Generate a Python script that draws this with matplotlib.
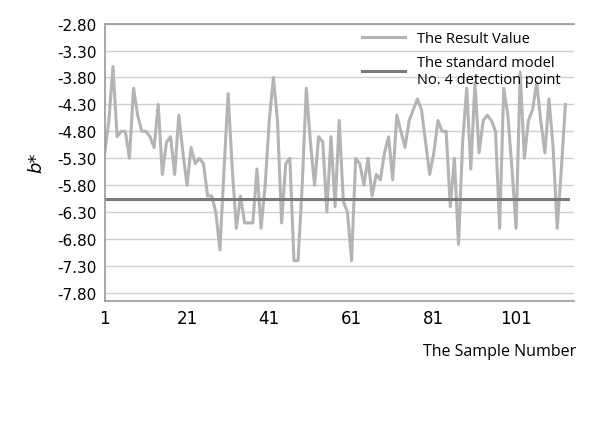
import matplotlib
matplotlib.use("Agg")
import matplotlib.pyplot as plt
import numpy as np

values = [-5.2,-4.6,-3.6,-4.9,-4.8,-4.8,-5.3,-4.0,-4.5,-4.8,-4.8,-4.9,-5.1,-4.3,-5.6,-5.0,-4.9,-5.6,-4.5,-5.2,
          -5.8,-5.1,-5.4,-5.3,-5.4,-6.0,-6.0,-6.3,-7.0,-5.5,-4.1,-5.5,-6.6,-6.0,-6.5,-6.5,-6.5,-5.5,-6.6,-5.8,
          -4.6,-3.8,-4.6,-6.5,-5.4,-5.3,-7.2,-7.2,-5.8,-4.0,-5.0,-5.8,-4.9,-5.0,-6.3,-4.9,-6.2,-4.6,-6.1,-6.3,
          -7.2,-5.3,-5.4,-5.8,-5.3,-6.0,-5.6,-5.7,-5.2,-4.9,-5.7,-4.5,-4.8,-5.1,-4.6,-4.4,-4.2,-4.4,-5.0,-5.6,
          -5.2,-4.6,-4.8,-4.8,-6.2,-5.3,-6.9,-5.0,-4.0,-5.5,-3.9,-5.2,-4.6,-4.5,-4.6,-4.8,-6.6,-4.0,-4.5,-5.5,
          -6.6,-3.7,-5.3,-4.6,-4.4,-3.9,-4.6,-5.2,-4.2,-5.1,-6.6,-5.5,-4.3]
samples = np.arange(1, len(values) + 1)
standard = -6.05
yticks = [-2.8,-3.3,-3.8,-4.3,-4.8,-5.3,-5.8,-6.3,-6.8,-7.3,-7.8]
xticks = [1, 21, 41, 61, 81, 101]

fig = plt.figure(figsize=(6.09, 4.39), dpi=100)
ax = fig.add_axes([0.172, 0.312, 0.77, 0.632])
ax.plot(samples, values, color="#b4b4b4", lw=2.2, label="The Result Value")
ax.axhline(standard, xmin=0, xmax=(113.5-1)/(115-1), color="#7a7a7a", lw=2.2,
           label="The standard model\nNo. 4 detection point")
ax.set_xlim(1, 115)
ax.set_ylim(-7.95, -2.8)
ax.set_yticks(yticks)
ax.set_yticklabels([f"{v:.2f}" for v in yticks], fontsize=11)
ax.set_xticks(xticks)
ax.set_xticklabels([str(v) for v in xticks], fontsize=12)
ax.tick_params(length=0, pad=6)
ax.grid(axis="y", color="#d0d0d0", lw=1)
ax.spines["right"].set_visible(False)
for s in ["left", "bottom", "top"]:
    ax.spines[s].set_color("#999999")
    ax.spines[s].set_linewidth(1.2)
ax.set_ylabel("b*", fontsize=13, style="italic", labelpad=8)
fig.text(0.82, 0.19, "The Sample Number", fontsize=11.5, ha="center", family="Open Sans")
leg = ax.legend(loc="upper right", frameon=False, prop={"family": "Open Sans", "size": 10.5},
                handlelength=3, bbox_to_anchor=(1.0, 1.02), labelspacing=0.6)
fig.savefig("out.png", dpi=100, facecolor="white")
